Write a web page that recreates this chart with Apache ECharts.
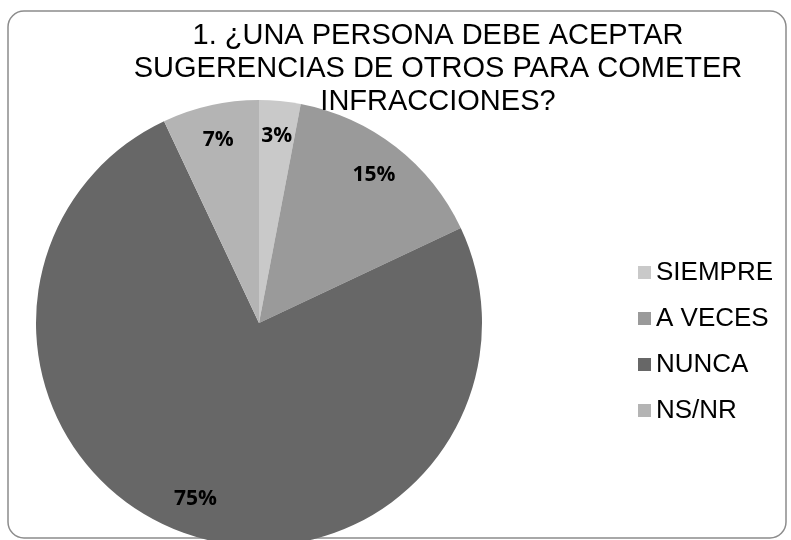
<!DOCTYPE html>
<html>
<head>
<meta charset="utf-8">
<script src="https://cdn.jsdelivr.net/npm/echarts@6/dist/echarts.min.js"></script>
<style>
  html, body { margin: 0; padding: 0; background: #fff; }
  #chart { width: 791px; height: 540px; }
</style>
</head>
<body>
<div id="chart"></div>
<script>
// categorias y porcentajes
var categories = ['SIEMPRE', 'A VECES', 'NUNCA', 'NS/NR'];
var values = [3, 15, 75, 7];
var colors = ['#c9c9c9', '#9a9a9a', '#676767', '#b4b4b4'];
var titleText = '1. ¿UNA PERSONA DEBE ACEPTAR\nSUGERENCIAS DE OTROS PARA COMETER\nINFRACCIONES?';

var myChart = echarts.init(document.getElementById('chart'));

var pieData = [];
categories.forEach(function (name, i) {
    pieData.push({ name: name, value: values[i], itemStyle: { color: colors[i] } });
});

var option = {
    animation: false,
    title: {
        text: titleText,
        left: 433,
        top: 14,
        textAlign: 'center',
        textStyle: {
            fontFamily: 'Liberation Sans',
            fontSize: 29,
            fontWeight: 'normal',
            color: '#000',
            lineHeight: 33
        }
    },
    legend: {
        orient: 'vertical',
        left: 638,
        top: 259,
        padding: 0,
        itemWidth: 13,
        itemHeight: 13,
        itemGap: 19,
        icon: 'rect',
        textStyle: {
            fontFamily: 'Liberation Sans',
            fontSize: 26,
            color: '#000',
            lineHeight: 27
        },
        data: categories
    },
    graphic: [{
        type: 'rect',
        z: -10,
        shape: { x: 8, y: 11, width: 778, height: 527, r: 16 },
        style: { fill: 'none', stroke: '#8c8c8c', lineWidth: 1.5 }
    }],
    series: [{
        name: 'pie',
        type: 'pie',
        center: [259, 323],
        radius: 223,
        startAngle: 90,
        clockwise: true,
        data: pieData,
        label: { show: false },
        labelLine: { show: false },
        emphasis: { disabled: true }
    }, {
        // anillo invisible solo para colocar las etiquetas
        name: 'labels',
        type: 'pie',
        center: [259, 323],
        radius: [146, 223],
        startAngle: 90,
        clockwise: true,
        silent: true,
        data: pieData.map(function (d) { return { name: d.name, value: d.value }; }),
        itemStyle: { color: 'rgba(0,0,0,0)' },
        label: {
            show: true,
            position: 'inside',
            formatter: '{c}%',
            fontFamily: 'Open Sans',
            fontWeight: 'bold',
            fontSize: 21,
            color: '#000'
        },
        labelLine: { show: false },
        emphasis: { disabled: true }
    }]
};
myChart.setOption(option);
</script>
</body>
</html>
